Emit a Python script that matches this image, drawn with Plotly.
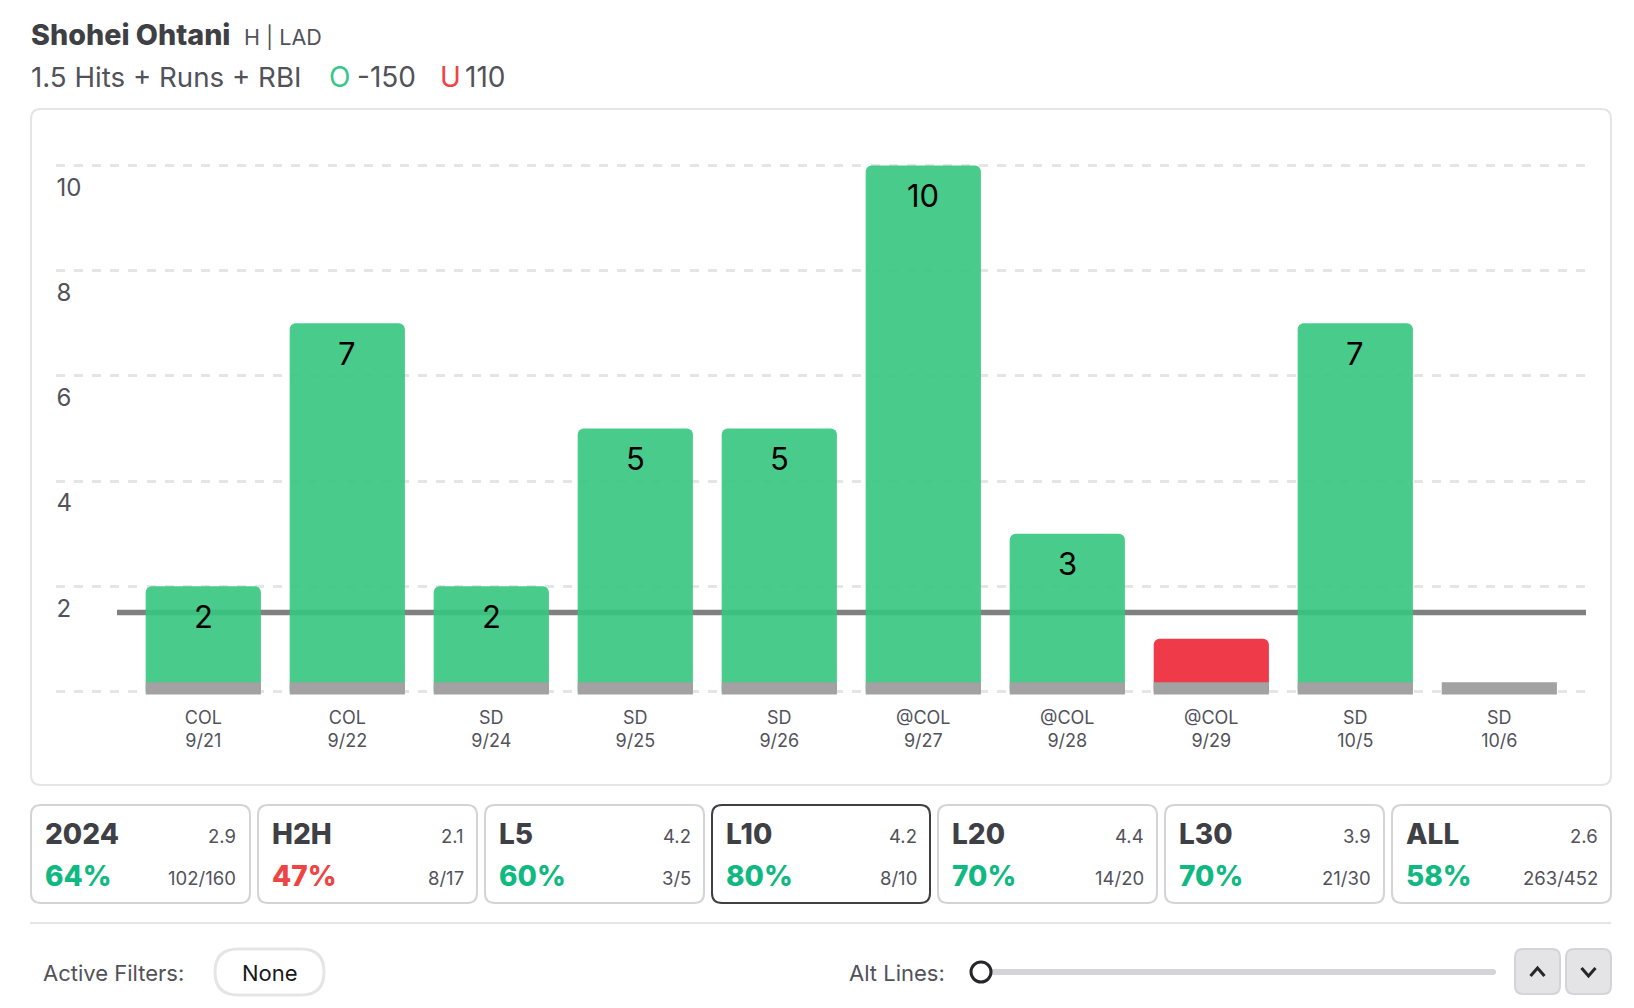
import plotly.graph_objects as go

# chart data
opponents = ['COL', 'COL', 'SD', 'SD', 'SD', '@COL', '@COL', '@COL', 'SD', 'SD']
dates = ['9/21', '9/22', '9/24', '9/25', '9/26', '9/27', '9/28', '9/29', '10/5', '10/6']
totals = [2, 7, 2, 5, 5, 10, 3, 1, 7, 0]
strip_heights = [0.235] * 10
y_ticks = [0, 2, 4, 6, 8, 10]
prop_line = 1.5

# stat tiles below the chart
tile_names = ['2024', 'H2H', 'L5', 'L10', 'L20', 'L30', 'ALL']
tile_avgs = ['2.9', '2.1', '4.2', '4.2', '4.4', '3.9', '2.6']
tile_pcts = ['64%', '47%', '60%', '80%', '70%', '70%', '58%']
tile_counts = ['102/160', '8/17', '3/5', '8/10', '14/20', '21/30', '263/452']
tile_lefts = [31, 258, 485, 712, 938, 1165, 1392]
tile_rights = [250, 477, 704, 930, 1157, 1384, 1611]

FONT = 'Inter'
DARK = '#3F3F46'
MID = '#52525B'
GREEN = '#10B981'
RED = '#EF4444'
BORDER = '#E5E5E5'

# page has an 8px body margin, so figure is 16px smaller than the window
W, H = 1618, 992


def fx(px):
    return (px - 8) / W


def fy(py):
    return 1 - (py - 8) / H


def round_rect(x0, y0, x1, y1, r):
    rx, ry = r / W, r / H
    a, b, c, d = fx(x0), fx(x1), fy(y0), fy(y1)
    return (f'M {a + rx} {c} L {b - rx} {c} Q {b} {c} {b} {c - ry} '
            f'L {b} {d + ry} Q {b} {d} {b - rx} {d} '
            f'L {a + rx} {d} Q {a} {d} {a} {d + ry} '
            f'L {a} {c - ry} Q {a} {c} {a + rx} {c} Z')


def card(x0, y0, x1, y1, r, line, width=2, fill='white'):
    fig.add_shape(type='path', path=round_rect(x0, y0, x1, y1, r), xref='paper', yref='paper',
                  line=dict(color=line, width=width), fillcolor=fill, layer='below')


def label(px, py, text, size, color=MID, anchor='left', bold=False):
    fig.add_annotation(x=fx(px), y=fy(py), xref='paper', yref='paper', text=text, showarrow=False,
                       xanchor=anchor, yanchor='middle', borderpad=0, align=anchor,
                       font=dict(family=FONT, size=size, color=color, weight=800 if bold else 400))


categories = [f'{o}<br>{d}' for o, d in zip(opponents, dates)]
bar_colors = ['rgba(52,197,126,0.9)' if v > prop_line else 'rgba(238,52,68,0.97)' for v in totals]

fig = go.Figure()
fig.add_bar(x=categories, y=totals, marker=dict(color=bar_colors, cornerradius=6, line_width=0), hoverinfo='skip')
fig.add_bar(x=categories, y=strip_heights, base=-0.06, marker=dict(color='#A2A2A2', line_width=0), hoverinfo='skip')
# nothing to see here, it only makes plotly draw the label axis
fig.add_scatter(x=categories, y=totals, yaxis='y2', mode='none', hoverinfo='skip')

fig.update_layout(
    width=W, height=H,
    margin=dict(l=0, r=0, t=0, b=0),
    paper_bgcolor='white', plot_bgcolor='rgba(0,0,0,0)',
    barmode='overlay', bargap=0.2,
    showlegend=False, hovermode=False,
    font=dict(family=FONT, color=MID),
    xaxis=dict(
        type='category', categoryorder='array', categoryarray=categories,
        domain=[fx(56), fx(1586)], range=[-1.0229, 9.602],
        showgrid=False, zeroline=False, showline=False,
        ticks='outside', ticklen=6, tickcolor='rgba(0,0,0,0)',
        tickfont=dict(size=18, color=MID), tickangle=0, automargin=False,
    ),
    yaxis=dict(
        domain=[fy(695.1), fy(130.8)], range=[-0.07, 10.66],
        tickvals=y_ticks, showticklabels=False, ticks='',
        showgrid=True, gridcolor=BORDER, gridwidth=3, griddash='9px,9.1px',
        zeroline=False, showline=False, automargin=False,
    ),
    # tick labels sit a little under their gridlines, so they get their own shifted axis
    yaxis2=dict(
        domain=[fy(717.1), fy(152.8)], range=[-0.07, 10.66], anchor='free', position=fx(52.5),
        tickvals=y_ticks, ticklabelposition='inside', ticks='',
        showgrid=False, zeroline=False, showline=False, automargin=False,
        tickfont=dict(size=24, color=MID),
    ),
)

# chart frame
card(31, 109, 1611, 785, 10, BORDER)

# prop line under the see-through bars
fig.add_shape(type='line', xref='paper', yref='y', x0=fx(117), x1=fx(1586), y0=prop_line, y1=prop_line,
              line=dict(color='#808080', width=5.5), layer='below')

for cat, v in zip(categories, totals):
    if v >= 2:
        fig.add_annotation(x=cat, y=v, xref='x', yref='y', text=str(v), showarrow=False, yshift=-30,
                           yanchor='middle', font=dict(family=FONT, size=31, color='#000000'))

# header
label(30, 34.5, 'Shohei Ohtani', 28.7, DARK, bold=True)
label(243, 37, 'H | LAD', 21.5, MID)
label(30, 77, '1.5 Hits + Runs + RBI', 27.7, MID)
label(328, 77, 'O', 28, '#34C78A')
label(356, 77, '-150', 28, MID)
label(439, 77, 'U', 28, RED)
label(464, 77, '110', 28, MID)

# stat tiles
for i, name in enumerate(tile_names):
    l, r = tile_lefts[i], tile_rights[i]
    selected = name == 'L10'
    card(l, 805, r, 903, 10, DARK if selected else '#D4D4D8')
    label(l + 12.5, 834, name, 28, DARK, bold=True)
    label(r - 12.5, 836, tile_avgs[i], 18.5, MID, anchor='right')
    pct_color = GREEN if int(tile_pcts[i][:-1]) > 50 else RED
    label(l + 12.5, 876, tile_pcts[i], 28, pct_color, bold=True)
    label(r - 12.5, 878, tile_counts[i], 18.5, MID, anchor='right')

fig.add_shape(type='line', xref='paper', yref='paper', x0=fx(30), x1=fx(1611), y0=fy(923), y1=fy(923),
              line=dict(color=BORDER, width=2), layer='below')

# filter row
label(42, 973, 'Active Filters:', 22, MID)
card(215, 949, 324, 995, 23, BORDER, width=3)
label(269.5, 973, 'None', 22, '#18181B', anchor='center')

# alt lines slider
label(848, 973, 'Alt Lines:', 22, MID)
card(978, 969, 1496, 975, 3, '#D4D4D8', width=0, fill='#D4D4D8')
fig.add_shape(type='circle', xref='paper', yref='paper', x0=fx(971), x1=fx(991), y0=fy(982), y1=fy(962),
              line=dict(color='#27272A', width=3), fillcolor='white')

# up / down buttons
card(1515, 949, 1560, 994, 8, '#D4D4D8', fill='#E4E4E7')
card(1566, 949, 1611, 994, 8, '#D4D4D8', fill='#E4E4E7')
for cx, d in [(1537.5, -1), (1588.5, 1)]:
    chevron = (f'M {fx(cx - 7)} {fy(972 - 4 * d)} L {fx(cx)} {fy(972 + 4 * d)} L {fx(cx + 7)} {fy(972 - 4 * d)}')
    fig.add_shape(type='path', path=chevron, xref='paper', yref='paper', line=dict(color='#27272A', width=3))

fig.write_html("out.html")
